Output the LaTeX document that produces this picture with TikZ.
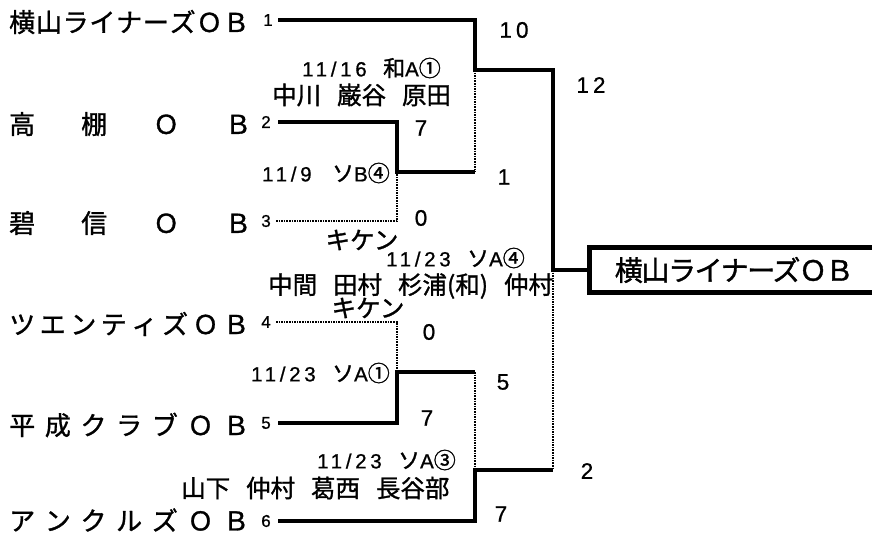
\documentclass[tikz,border=0pt]{standalone}
\usepackage{fontspec}
\setmainfont{Noto Sans CJK JP}
\newfontfamily\jp[FakeBold=1.2]{Noto Sans CJK JP}
\newfontfamily\jpw[FakeBold=1.2,LetterSpace=-5]{Noto Sans CJK JP}
\newfontfamily\lat[LetterSpace=18,FakeBold=0.8]{Liberation Sans}
\newfontfamily\latn[FakeBold=0.8]{Liberation Sans}
\newcommand{\gp}{\hspace{0.65em}}
\newcommand{\djp}[1]{{\jp\fontsize{22}{24}\selectfont #1}}
\begin{document}
\begin{tikzpicture}[x=1pt,y=-1pt,
  thk/.style={line width=4.5pt, line join=miter, line cap=butt},
  dotl/.style={line width=1.6pt, densely dotted},
  team/.style={anchor=west, inner sep=0pt, font=\jp\fontsize{26}{30}\selectfont},
  tnum/.style={inner sep=0pt, font=\latn\fontsize{17}{20}\selectfont},
  score/.style={inner sep=0pt, font=\lat\fontsize{22.5}{26}\selectfont},
  date/.style={inner sep=0pt, font=\lat\fontsize{20.5}{24}\selectfont},
  pname/.style={inner sep=0pt, font=\jp\fontsize{24.5}{28}\selectfont},
  winbox/.style={draw, line width=4.5pt, anchor=west, minimum width=290pt, minimum height=45pt, inner sep=0pt, font=\jpw\fontsize{28}{32}\selectfont}]
\useasboundingbox (0,0) rectangle (872,535);
\fill[white] (0,0) rectangle (872,535);

% team names
\node[team] (t1) at (9,22) {\makebox[240pt][l]{横\hfill 山\hfill ラ\hfill イ\hfill ナ\hfill ー\hfill ズ\hfill Ｏ\hfill Ｂ}};
\node[team] (t2) at (9,124) {\makebox[242pt][l]{高\hfill 棚\hfill Ｏ\hfill Ｂ}};
\node[team] (t3) at (9,223) {\makebox[242pt][l]{碧\hfill 信\hfill Ｏ\hfill Ｂ}};
\node[team] (t4) at (9,324) {\makebox[240pt][l]{ツ\hfill エ\hfill ン\hfill テ\hfill ィ\hfill ズ\hfill Ｏ\hfill Ｂ}};
\node[team] (t5) at (9,425) {\makebox[240pt][l]{平\hfill 成\hfill ク\hfill ラ\hfill ブ\hfill Ｏ\hfill Ｂ}};
\node[team] (t6) at (9,520) {\makebox[240pt][l]{ア\hfill ン\hfill ク\hfill ル\hfill ズ\hfill Ｏ\hfill Ｂ}};

% team numbers
\node[tnum] (n1) at (268,20) {1};
\node[tnum] (n2) at (266,122) {2};
\node[tnum] (n3) at (266,221) {3};
\node[tnum] (n4) at (266,322) {4};
\node[tnum] (n5) at (266,423) {5};
\node[tnum] (n6) at (266,521) {6};

% line start points and junctions
\coordinate (p1) at (278,20);
\coordinate (p2) at (278,122);
\coordinate (p3) at (276,221);
\coordinate (p4) at (276,322);
\coordinate (p5) at (278,423);
\coordinate (p6) at (278,521);
\coordinate (q23) at (397,172);
\coordinate (q45) at (397,372);
\coordinate (r1) at (475,70);
\coordinate (r56) at (475,470);
\coordinate (f) at (553,270);

% winner box
\node[winbox] (win) at (587,270) {横山ライナーズＯＢ};

% bracket
\draw[thk] (p1) -| (r1) -- (f |- r1) -- (f) -- (win.west);
\draw[thk] (p2) -| (q23) -- (r1 |- q23);
\draw[dotl] (r1) -- (r1 |- q23);
\draw[dotl] (p3) -| (q23);
\draw[dotl] (p4) -| (q45);
\draw[thk] (p5) -| (q45) -- (r56 |- q45);
\draw[dotl] (r56 |- q45) -- (r56);
\draw[thk] (p6) -| (r56) -- (f |- r56);
\draw[dotl] (f) -- (f |- r56);

% scores
\node[score] (s10) at (514,30) {10};
\node[score] (s12) at (591,85) {12};
\node[score] (s7a) at (421,128) {7};
\node[score] (s1) at (504,177) {1};
\node[score] (s0a) at (421,218) {0};
\node[score] (s0b) at (429,332) {0};
\node[score] (s5) at (503,382) {5};
\node[score] (s7b) at (427,418) {7};
\node[score] (s2) at (587,471) {2};
\node[score] (s7c) at (501,514) {7};

% dates and players
\node[date, anchor=west] (d1) at (302,68) {11/16\hspace{0.8em}\djp{和}A\djp{①}};
\node[pname, anchor=west] (m1) at (272,95) {中川\gp 巌谷\gp 原田};
\node[date, anchor=east] (d2) at (390,173) {11/9\hspace{1em}\djp{ソ}B\djp{④}};
\node[pname] (k1) at (362,240) {キケン};
\node[date, anchor=west] (d3) at (386,258) {11/23\hspace{0.8em}\djp{ソ}A\djp{④}};
\node[pname, anchor=west] (m3) at (268,286) {中間\gp 田村\gp 杉浦(和)\gp 仲村};
\node[pname] (k2) at (368,308) {キケン};
\node[date, anchor=east] (d4) at (390,373) {11/23\hspace{0.8em}\djp{ソ}A\djp{①}};
\node[date, anchor=west] (d5) at (317,460) {11/23\hspace{0.8em}\djp{ソ}A\djp{③}};
\node[pname, anchor=west] (m5) at (181,488) {山下\gp 仲村\gp 葛西\gp 長谷部};
\end{tikzpicture}
\end{document}
